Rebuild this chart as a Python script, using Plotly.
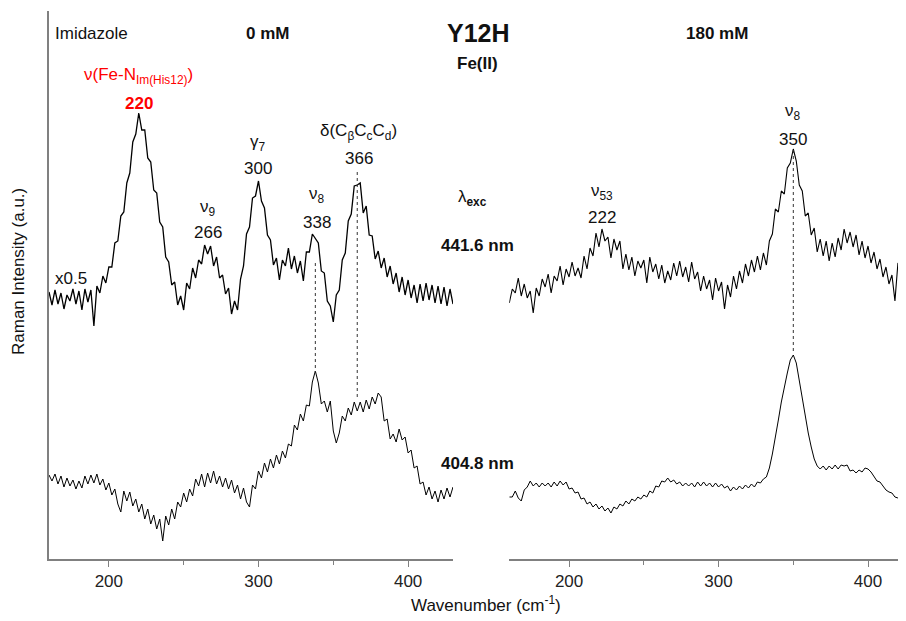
import numpy as np
import plotly.graph_objects as go

# ---------------- data ----------------
wn_left = np.arange(160, 431, 2)   # 0 mM imidazole
wn_right = np.arange(160, 425, 2)  # 180 mM imidazole

# 441.6 nm excitation, 0 mM (x0.5)
i441_0mM = [267, 254, 269, 255, 266, 250, 264, 258, 270, 255, 268, 249, 270, 257, 269, 233,
            273, 266, 283, 276, 292, 292, 316, 318, 343, 347, 376, 386, 417, 425, 446, 429,
            429, 401, 397, 369, 366, 337, 332, 302, 297, 274, 277, 254, 263, 249, 276, 270,
            291, 281, 299, 295, 314, 305, 313, 293, 302, 281, 284, 265, 271, 245, 258, 249,
            280, 293, 325, 332, 361, 363, 378, 358, 351, 324, 319, 294, 301, 279, 299, 293,
            311, 290, 303, 286, 298, 278, 307, 307, 325, 320, 316, 288, 286, 258, 253, 237,
            264, 269, 299, 306, 338, 345, 373, 374, 376, 346, 353, 324, 323, 300, 308, 291,
            301, 282, 293, 275, 286, 267, 282, 264, 279, 261, 274, 256, 275, 258, 276, 259,
            274, 256, 273, 255, 272, 253, 270, 255]

# 404.8 nm excitation, 0 mM
i404_0mM = [84, 78, 85, 75, 83, 72, 81, 73, 79, 70, 78, 71, 83, 75, 84, 76,
            85, 74, 80, 69, 76, 64, 70, 55, 47, 68, 58, 67, 53, 60, 47, 55,
            40, 50, 35, 44, 30, 40, 18, 43, 34, 50, 40, 57, 52, 66, 57, 70,
            63, 80, 73, 85, 72, 86, 76, 88, 75, 83, 72, 81, 70, 79, 66, 74,
            60, 71, 57, 52, 74, 70, 88, 81, 96, 87, 100, 91, 104, 95, 108, 101,
            115, 113, 134, 129, 145, 138, 154, 153, 177, 188, 176, 155, 158, 147, 158, 128,
            116, 126, 143, 138, 151, 144, 157, 148, 157, 147, 159, 150, 162, 155, 166, 162,
            138, 140, 120, 125, 117, 130, 119, 122, 106, 109, 91, 93, 75, 77, 64, 72,
            60, 68, 57, 69, 60, 71, 62, 72]

# 441.6 nm excitation, 180 mM
i441_180mM = [256, 270, 266, 281, 263, 275, 261, 268, 246, 271, 263, 280, 272, 285, 266, 283,
              278, 293, 274, 290, 282, 297, 283, 291, 281, 303, 290, 311, 303, 326, 312, 330,
              318, 322, 301, 320, 309, 318, 290, 305, 289, 302, 283, 298, 291, 299, 276, 302,
              287, 295, 280, 294, 276, 288, 279, 296, 283, 298, 282, 292, 277, 297, 280, 287,
              268, 283, 270, 279, 259, 281, 268, 277, 250, 274, 262, 283, 270, 288, 276, 295,
              283, 299, 287, 303, 289, 306, 294, 318, 325, 350, 347, 368, 365, 391, 396, 410,
              398, 374, 368, 343, 346, 324, 331, 307, 320, 303, 318, 298, 316, 302, 321, 309,
              330, 316, 327, 312, 324, 304, 318, 301, 313, 296, 307, 290, 300, 282, 292, 275,
              284, 258, 296, 293, 316]

# 404.8 nm excitation, 180 mM
i404_180mM = [62, 62, 68, 61, 58, 69, 72, 78, 73, 76, 72, 76, 73, 76, 72, 77,
              73, 78, 74, 77, 70, 71, 66, 67, 60, 61, 55, 57, 52, 55, 50, 53,
              48, 51, 46, 52, 50, 55, 53, 58, 55, 60, 58, 62, 60, 64, 62, 68,
              66, 73, 72, 78, 77, 81, 77, 79, 75, 77, 73, 76, 73, 76, 72, 77,
              73, 77, 73, 76, 72, 76, 72, 75, 71, 73, 68, 72, 69, 73, 70, 74,
              71, 75, 72, 77, 76, 80, 82, 91, 105, 124, 139, 157, 173, 186, 199, 204,
              196, 178, 160, 142, 126, 112, 100, 93, 90, 93, 89, 93, 90, 94, 90, 94,
              93, 94, 88, 89, 86, 89, 87, 91, 90, 87, 83, 78, 77, 73, 69, 67,
              66, 62, 61, 58, 56]

# peak labels: (wavenumber, label, number, label y, number y)
peaks_left = [(266, "ν<sub>9</sub>", "266", 351, 327),
              (300, "γ<sub>7</sub>", "300", 416, 391),
              (339, "ν<sub>8</sub>", "338", 364, 337),
              (367, "δ(C<sub>β</sub>C<sub>c</sub>C<sub>d</sub>)", "366", 427, 401)]
peaks_right = [(222, "ν<sub>53</sub>", "222", 367, 342),
               (350, "ν<sub>8</sub>", "350", 447, 420)]

# dotted correlation lines: (wavenumber, y top, y bottom)
dots_left = [(338, 296, 187), (366, 387, 162)]
dots_right = [(350, 409, 206)]

ticks = [200, 300, 400]

# ---------------- figure ----------------
FONT = "Arial, Liberation Sans, sans-serif"
AX = "#808080"
OFF = 8  # page body margin
W, H = 906 - OFF, 621 - OFF
ML, MR, MT, MB = 49 - OFF, 0, 11 - OFF, 62
PW, PH = W - ML - MR, H - MT - MB


def px(x):
    return (x - OFF - ML) / PW


def py(y):
    return (H - MB - (y - OFF)) / PH


fig = go.Figure()
fig.add_trace(go.Scatter(x=wn_left, y=i441_0mM, mode="lines",
                         line=dict(color="black", width=1.3), xaxis="x", yaxis="y"))
fig.add_trace(go.Scatter(x=wn_left, y=i404_0mM, mode="lines",
                         line=dict(color="black", width=1.0), xaxis="x", yaxis="y"))
fig.add_trace(go.Scatter(x=wn_right, y=i441_180mM, mode="lines",
                         line=dict(color="black", width=1.1), xaxis="x2", yaxis="y2"))
fig.add_trace(go.Scatter(x=wn_right, y=i404_180mM, mode="lines",
                         line=dict(color="black", width=1.0), xaxis="x2", yaxis="y2"))

for w, y0, y1 in dots_left:
    fig.add_trace(go.Scatter(x=[w, w], y=[y0, y1], mode="lines",
                             line=dict(color="#333", width=1, dash="dot"),
                             xaxis="x", yaxis="y"))
for w, y0, y1 in dots_right:
    fig.add_trace(go.Scatter(x=[w, w], y=[y0, y1], mode="lines",
                             line=dict(color="#333", width=1, dash="dot"),
                             xaxis="x2", yaxis="y2"))

ann = []
tf = dict(family=FONT, size=17, color="#111")
for w, lab, num, yl, yn in peaks_left:
    ann.append(dict(x=w, y=yl, xref="x", yref="y", text=lab, showarrow=False, font=tf))
    ann.append(dict(x=w, y=yn, xref="x", yref="y", text=num, showarrow=False, font=tf))
for w, lab, num, yl, yn in peaks_right:
    ann.append(dict(x=w, y=yl, xref="x2", yref="y2", text=lab, showarrow=False, font=tf))
    ann.append(dict(x=w, y=yn, xref="x2", yref="y2", text=num, showarrow=False, font=tf))

red = dict(family=FONT, size=17, color="#ff0000")
ann.append(dict(x=220, y=483, xref="x", yref="y", showarrow=False, font=red,
                text="ν(Fe-N<sub>Im(His12)</sub>)"))
ann.append(dict(x=220, y=456, xref="x", yref="y", showarrow=False, font=red,
                text="<b>220</b>"))


def pann(text, x, y, size=17, anchor="center", angle=0):
    ann.append(dict(x=px(x), y=py(y), xref="paper", yref="paper", text=text,
                    showarrow=False, xanchor=anchor, yanchor="middle", textangle=angle,
                    font=dict(family=FONT, size=size, color="#111")))


pann("Imidazole", 53, 34, anchor="left")
pann("<b>0 mM</b>", 267, 33)
pann("<b>Y12H</b>", 479, 33, size=25)
pann("<b>Fe(II)</b>", 477, 64)
pann("<b>180 mM</b>", 717, 34)
pann("λ<sub><b>exc</b></sub>", 472, 198)
pann("<b>441.6 nm</b>", 478, 246)
pann("<b>404.8 nm</b>", 478, 463)
pann("x0.5", 53, 278, anchor="left")
pann("Wavenumber (cm<sup>-1</sup>)", 486, 604)
pann("Raman Intensity (a.u.)", 19, 272, angle=-90)

xcommon = dict(showgrid=False, zeroline=False, showline=True, linecolor=AX, linewidth=1.5,
               ticks="outside", tickcolor=AX, ticklen=6, tickwidth=1.2,
               tickvals=ticks, tickfont=dict(family=FONT, size=17, color="#222"),
               minor=dict(ticks="outside", dtick=50, tick0=150, ticklen=4, tickcolor=AX,
                          tickwidth=1.2))

fig.update_layout(
    width=W, height=H, margin=dict(l=ML, r=MR, t=MT, b=MB),
    paper_bgcolor="white", plot_bgcolor="white", showlegend=False,
    xaxis=dict(domain=[0, px(453)], range=[160, 430], anchor="y", **xcommon),
    xaxis2=dict(domain=[px(509.3), 1], range=[160, 425.4], anchor="y2", **xcommon),
    yaxis=dict(domain=[0, 1], range=[0, 548], showgrid=False, zeroline=False,
               showline=True, linecolor=AX, linewidth=1.5, ticks="",
               showticklabels=False, anchor="x"),
    yaxis2=dict(domain=[0, 1], range=[0, 548], visible=False, anchor="x2"),
    annotations=ann,
)

fig.write_html("out.html")
